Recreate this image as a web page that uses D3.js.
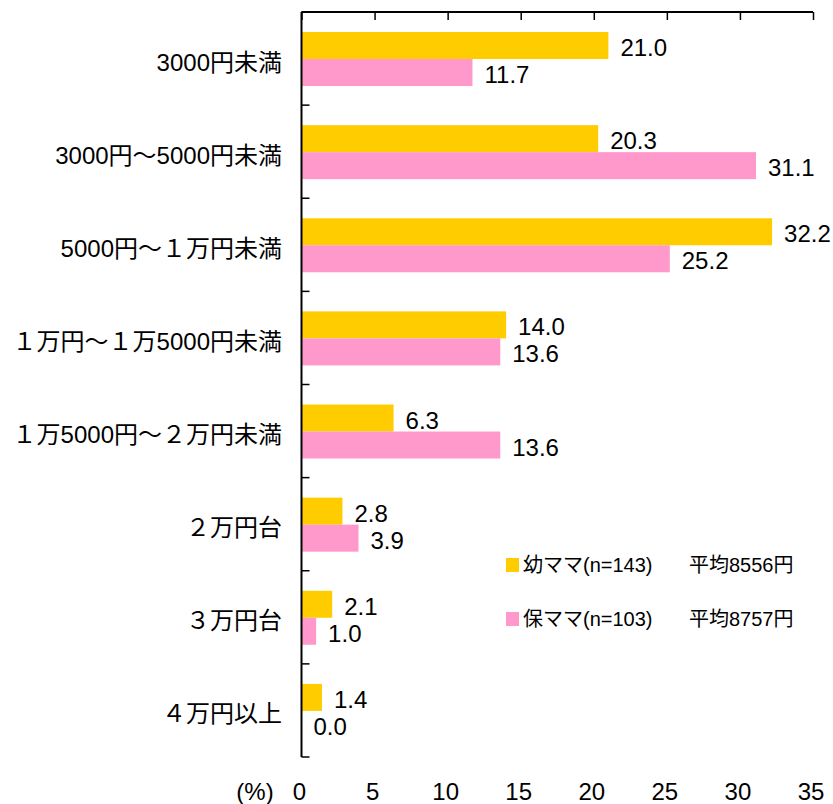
<!DOCTYPE html>
<html>
<head>
<meta charset="utf-8">
<script src="https://cdn.jsdelivr.net/npm/d3@7"></script>
<style>
  body { margin: 0; background: #fff; }
  text { font-family: "Liberation Sans", "Noto Sans CJK JP", sans-serif; fill: #000; }
</style>
</head>
<body>
<div id="chart"></div>
<script>
// données
const categories = [
  "3000円未満",
  "3000円～5000円未満",
  "5000円～１万円未満",
  "１万円～１万5000円未満",
  "１万5000円～２万円未満",
  "２万円台",
  "３万円台",
  "４万円以上"
];
const seriesNames = ["幼ママ", "保ママ"];
const youValues = [21.0, 20.3, 32.2, 14.0, 6.3, 2.8, 2.1, 1.4];
const hoValues = [11.7, 31.1, 25.2, 13.6, 13.6, 3.9, 1.0, 0.0];
const legendLabels = ["幼ママ(n=143)", "保ママ(n=103)"];
const legendAverages = ["平均8556円", "平均8757円"];
const xTicks = [0, 5, 10, 15, 20, 25, 30, 35];
const colors = ["#FFCC00", "#FF99CC"];

let width = 833;
let height = 804;

let svg = d3
  .select("#chart")
  .append("svg")
  .attr("width", width)
  .attr("height", height);

// échelles
let x = d3.scaleLinear().domain([0, 35]).range([301.5, 813]);
let y = d3.scaleBand().domain(categories).range([12, 757]);
let bw = y.bandwidth();
let y1 = d3.scaleBand().domain(seriesNames).range([bw * 0.215, bw * 0.795]);

let rows = categories.map((c, i) => ({
  cat: c,
  vals: [
    { s: seriesNames[0], v: youValues[i], color: colors[0] },
    { s: seriesNames[1], v: hoValues[i], color: colors[1] }
  ]
}));

let g = svg
  .selectAll("g.row")
  .data(rows)
  .join("g")
  .attr("class", "row")
  .attr("transform", (d) => "translate(0," + y(d.cat) + ")");

g.selectAll("rect")
  .data((d) => d.vals)
  .join("rect")
  .attr("x", x(0))
  .attr("y", (d) => y1(d.s))
  .attr("width", (d) => x(d.v) - x(0))
  .attr("height", y1.bandwidth())
  .attr("fill", (d) => d.color);

// étiquettes de valeurs
g.selectAll("text.val")
  .data((d) => d.vals)
  .join("text")
  .attr("class", "val")
  .attr("x", (d) => x(d.v) + 12)
  .attr("y", (d) => y1(d.s) + y1.bandwidth() / 2 + 10.5)
  .style("font-size", "24px")
  .text((d) => d.v.toFixed(1));

// libellés des catégories
svg
  .selectAll("text.cat")
  .data(categories)
  .join("text")
  .attr("class", "cat")
  .attr("x", 282)
  .attr("y", (d) => y(d) + bw / 2 + 12)
  .attr("text-anchor", "end")
  .style("font-size", "24px")
  .text((d) => d);

// axe vertical avec petites graduations à droite
svg
  .append("line")
  .attr("x1", x(0))
  .attr("x2", x(0))
  .attr("y1", 12)
  .attr("y2", 757)
  .attr("stroke", "#000")
  .attr("stroke-width", 2);

let bounds = categories.map((c) => y(c)).concat([757]);
svg
  .selectAll("line.ytick")
  .data(bounds)
  .join("line")
  .attr("class", "ytick")
  .attr("x1", x(0))
  .attr("x2", x(0) + 8)
  .attr("y1", (d) => d)
  .attr("y2", (d) => d)
  .attr("stroke", "#000")
  .attr("stroke-width", 1.5);

// axe du haut (ligne + graduations vers le bas)
svg
  .append("g")
  .attr("transform", "translate(0,12)")
  .call(d3.axisBottom(x).tickValues(xTicks).tickSize(8).tickFormat(""))
  .call((a) => a.select(".domain").attr("stroke-width", 2).attr("d", "M" + x(0) + ",0H" + x(35)))
  .call((a) => a.selectAll(".tick line").attr("stroke-width", 1.5));

// libellés des graduations en bas
svg
  .selectAll("text.xtick")
  .data(xTicks)
  .join("text")
  .attr("class", "xtick")
  .attr("x", (d) => x(d) - 2)
  .attr("y", 800)
  .attr("text-anchor", "middle")
  .style("font-size", "24px")
  .text((d) => d);

svg
  .append("text")
  .attr("x", 255)
  .attr("y", 800)
  .attr("text-anchor", "middle")
  .style("font-size", "24px")
  .text("(%)");

// légende
let legend = svg
  .selectAll("g.legend")
  .data(legendLabels)
  .join("g")
  .attr("class", "legend")
  .attr("transform", (d, i) => "translate(506," + (565 + i * 54) + ")");

legend
  .append("rect")
  .attr("x", 0)
  .attr("y", -7)
  .attr("width", 13)
  .attr("height", 14)
  .attr("fill", (d, i) => colors[i]);

legend
  .append("text")
  .attr("x", 17)
  .attr("y", 7)
  .style("font-size", "20px")
  .text((d) => d);

legend
  .append("text")
  .attr("x", 183)
  .attr("y", 7)
  .style("font-size", "20px")
  .text((d, i) => legendAverages[i]);
</script>
</body>
</html>
